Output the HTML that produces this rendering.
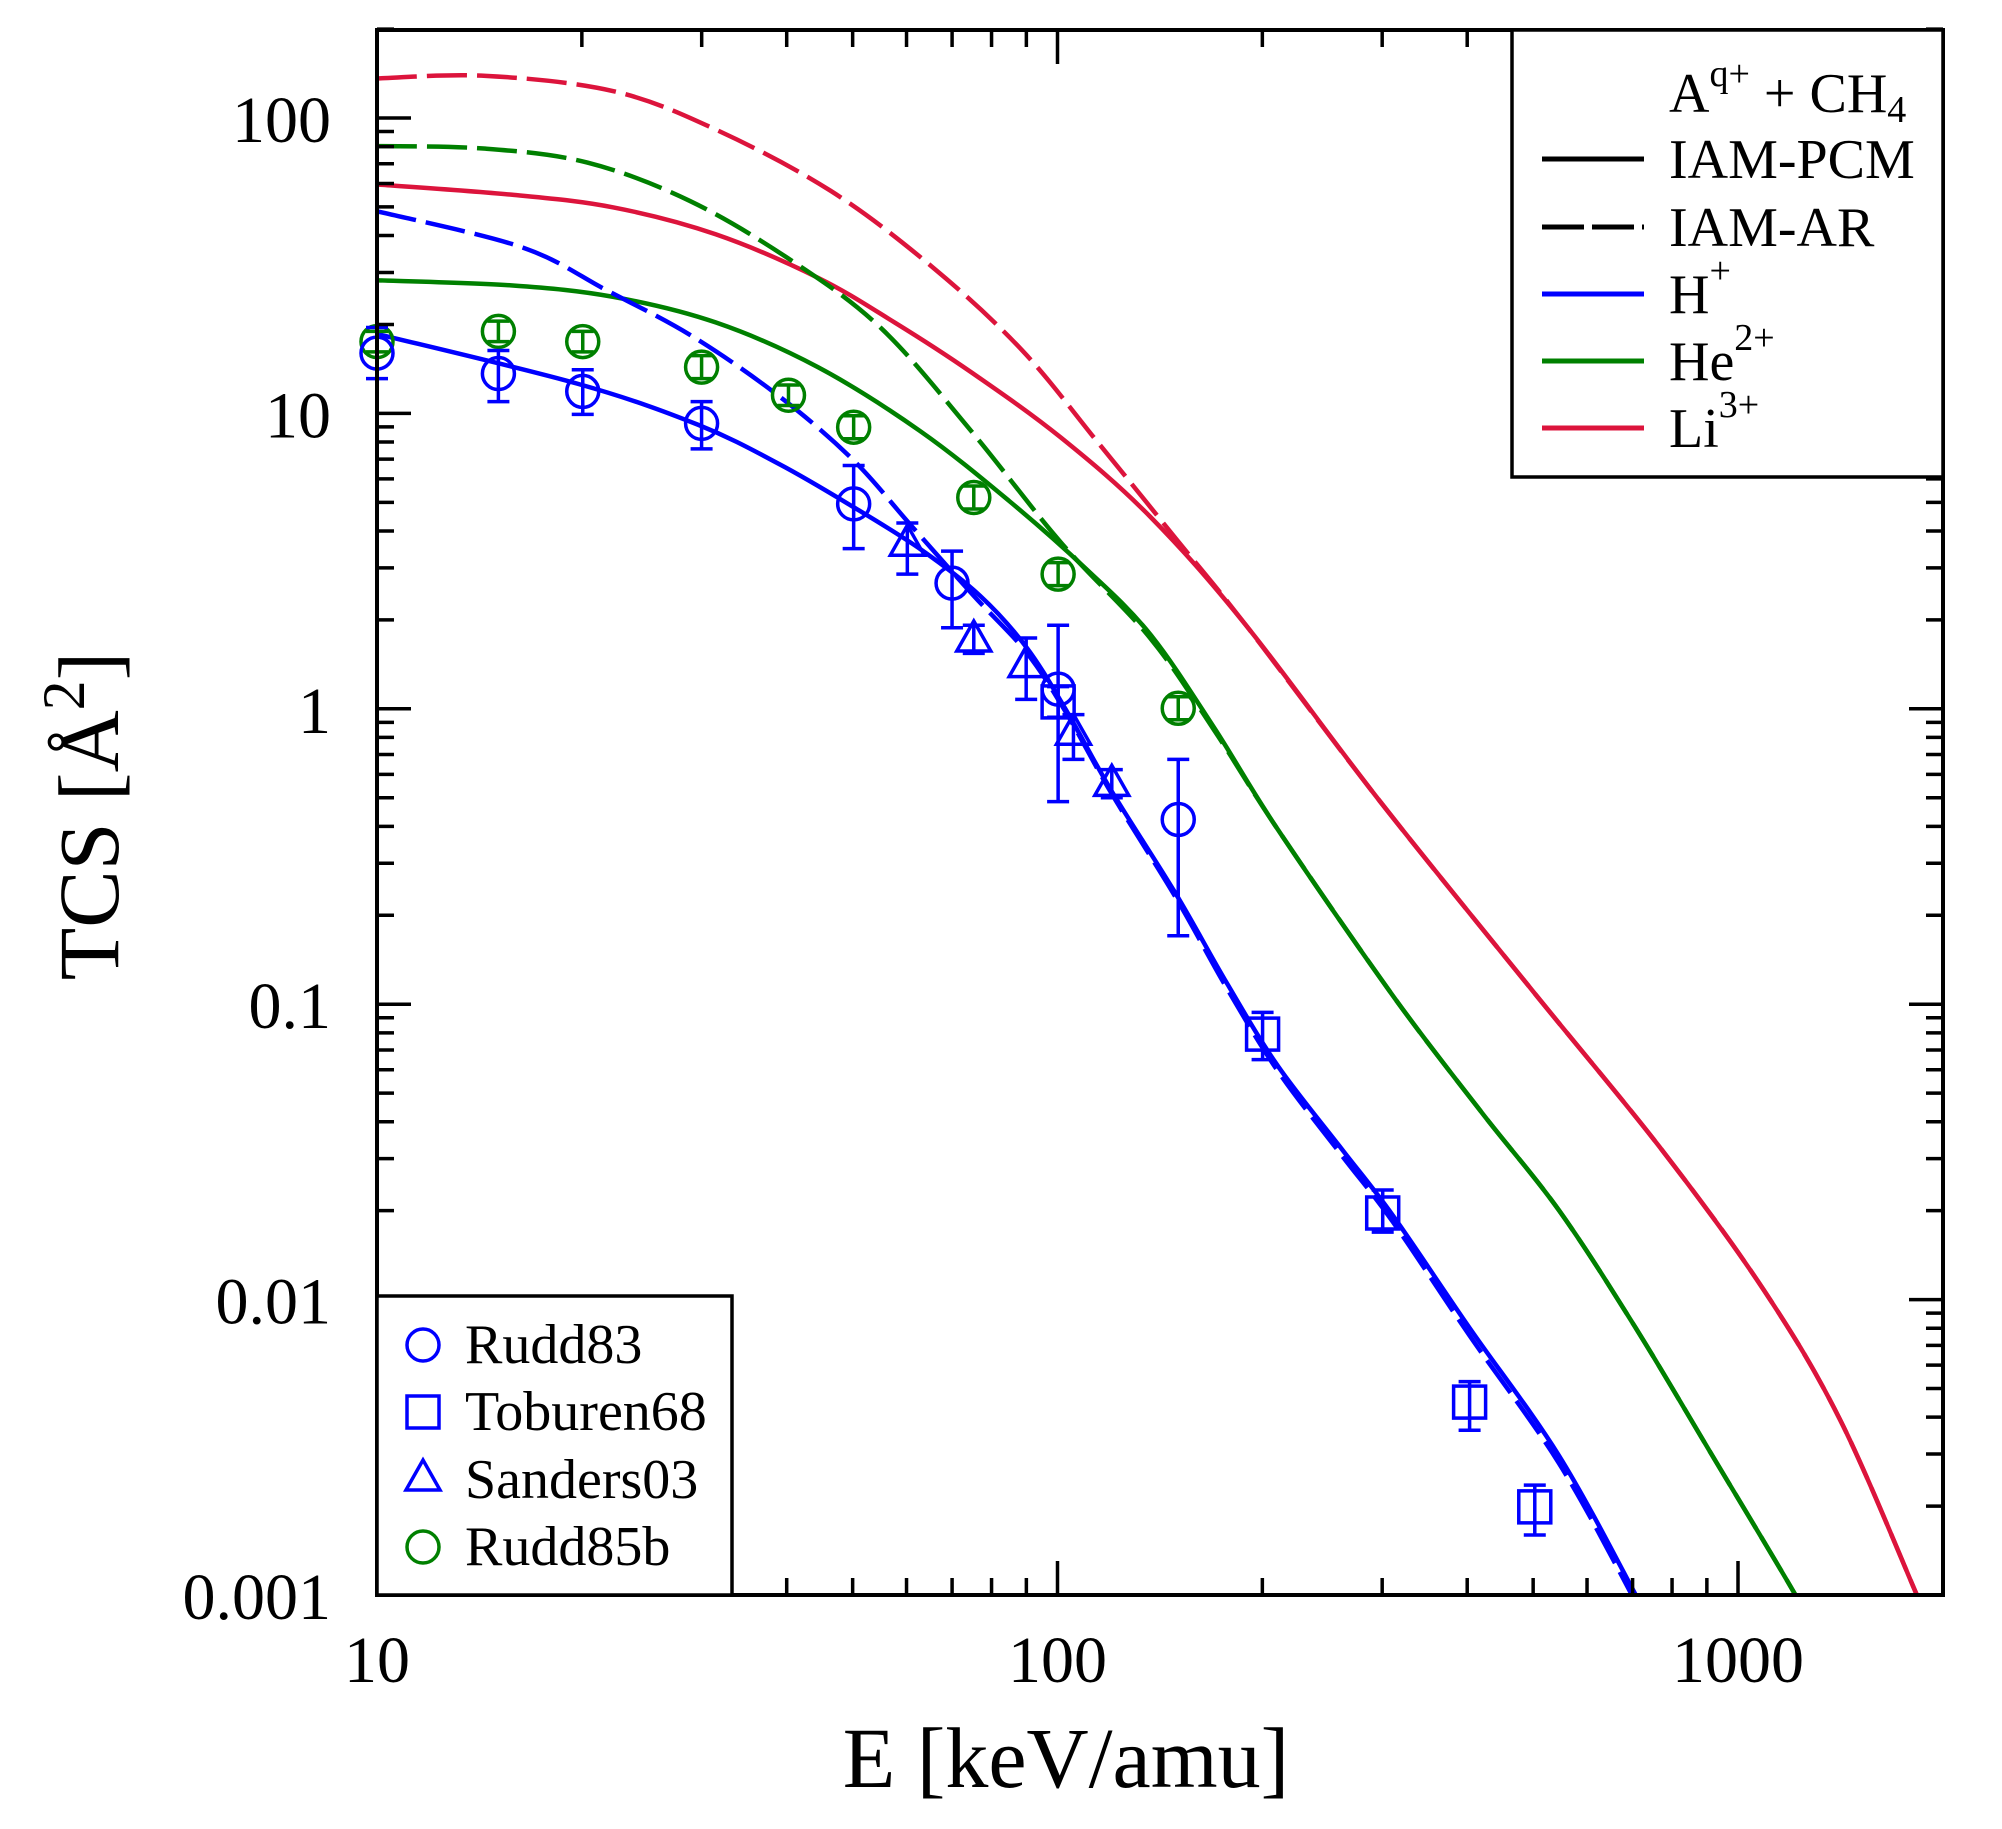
<!DOCTYPE html>
<html><head><meta charset="utf-8">
<style>
html,body{margin:0;padding:0;background:#fff;}
svg{display:block;}
text{font-family:"Liberation Serif",serif;fill:#000;}
</style></head>
<body>
<svg id="s" width="2002" height="1829" viewBox="0 0 2002 1829" xmlns="http://www.w3.org/2000/svg">
<defs><clipPath id="cp"><rect x="377" y="30" width="1566" height="1565"/></clipPath></defs>
<g id="curves" clip-path="url(#cp)"></g>
<g id="pts"></g>
<g id="ticks" stroke="#000" stroke-width="3.5"></g>
<rect x="377" y="30" width="1566" height="1565" fill="none" stroke="#000" stroke-width="4"/>
<rect x="1512" y="30" width="431" height="447" fill="#fff" stroke="#000" stroke-width="3.5"/>
<text x="1669" y="112" font-size="56">A<tspan font-size="38" dy="-26">q+</tspan><tspan dy="26"> + CH</tspan><tspan font-size="38" dy="10">4</tspan></text>
<line x1="1542" y1="159" x2="1644" y2="159" stroke="#000" stroke-width="5"/>
<text x="1669" y="178" font-size="56">IAM-PCM</text>
<line x1="1542" y1="227" x2="1644" y2="227" stroke="#000" stroke-width="5" stroke-dasharray="42,8"/>
<text x="1669" y="246" font-size="56">IAM-AR</text>
<line x1="1542" y1="294" x2="1644" y2="294" stroke="#0000ff" stroke-width="5"/>
<text x="1669" y="313" font-size="56">H<tspan font-size="38" dy="-30">+</tspan></text>
<line x1="1542" y1="361" x2="1644" y2="361" stroke="#008000" stroke-width="5"/>
<text x="1669" y="380" font-size="56">He<tspan font-size="38" dy="-30">2+</tspan></text>
<line x1="1542" y1="428" x2="1644" y2="428" stroke="#dc143c" stroke-width="5"/>
<text x="1669" y="447" font-size="56">Li<tspan font-size="38" dy="-30">3+</tspan></text>
<rect x="377" y="1296" width="355" height="299" fill="#fff" stroke="#000" stroke-width="3.5"/>
<circle cx="423" cy="1345" r="16" fill="none" stroke="#0000ff" stroke-width="3.5"/>
<text x="465" y="1363" font-size="56">Rudd83</text>
<rect x="407" y="1396" width="32" height="32" fill="none" stroke="#0000ff" stroke-width="3.5"/>
<text x="465" y="1430" font-size="56">Toburen68</text>
<polygon points="423,1460 440,1490 406,1490" fill="none" stroke="#0000ff" stroke-width="3.5"/>
<text x="465" y="1498" font-size="56">Sanders03</text>
<circle cx="423" cy="1547" r="16" fill="none" stroke="#008000" stroke-width="3.5"/>
<text x="465" y="1565" font-size="56">Rudd85b</text>
<g id="labels" font-size="66"></g>
<text x="1066" y="1787" font-size="86" text-anchor="middle">E [keV/amu]</text>
<text transform="translate(118,816) rotate(-90)" font-size="86" text-anchor="middle">TCS [Å<tspan font-size="60" dy="-34">2</tspan><tspan dy="34">]</tspan></text>
</svg>
<script>
var NS="http://www.w3.org/2000/svg";
function X(d){return 377+(d-295)*1.2779;}
function Y(d){return 118+(d-93)*1.2777;}
function el(p,t,a){var e=document.createElementNS(NS,t);for(var k in a)e.setAttribute(k,a[k]);p.appendChild(e);return e;}
function path(pts){
  var P=pts.map(function(p){return [X(p[0]),Y(p[1])];});
  var d="M"+P[0][0]+","+P[0][1];
  for(var i=0;i<P.length-1;i++){
    var p0=P[i-1]||P[i],p1=P[i],p2=P[i+1],p3=P[i+2]||P[i+1];
    var c1=[p1[0]+(p2[0]-p0[0])/6,p1[1]+(p2[1]-p0[1])/6];
    var c2=[p2[0]-(p3[0]-p1[0])/6,p2[1]-(p3[1]-p1[1])/6];
    d+=" C"+c1+" "+c2+" "+p2;
  }
  return d;
}
var cg=document.getElementById("curves");
var B="#0000ff",G="#008000",R="#dc143c";
var liTail=[[975,490],[1080,628],[1200,777],[1300,900],[1380,1010],[1440,1112],[1500,1249],[1515,1285]];
var liS=[[295,145],[400,153],[480,163],[560,184],[640,218],[700,253],[760,292],[830,343],[900,405]].concat(liTail);
var liD=[[295,62],[380,60],[480,72],[560,102],[650,150],[730,210],[800,275],[860,348],[920,422]].concat(liTail);
var heTail=[[1000,650],[1090,780],[1160,872],[1220,948],[1280,1040],[1340,1140],[1405,1249],[1420,1280]];
var heS=[[295,220],[400,224],[480,233],[560,253],[640,288],[720,338],[790,393],[850,446],[900,497],[950,570]].concat(heTail);
var heD=[[295,115],[380,117],[460,128],[540,158],[620,205],[690,258],[760,338],[830,425],[900,500],[950,572]].concat(heTail);
var hTail=[[920,700],[960,770],[1000,835],[1050,900],[1090,952],[1150,1040],[1220,1140],[1280,1249],[1295,1280]];
var hS=[[295,262],[452,301],[546,333],[610,364],[667,397],[721,431],[767,467],[803,507],[834,556],[870,620]].concat(hTail);
var hD=[[295,166],[408,194],[475,228],[542,264],[610,311],[667,360],[713,412],[762,467],[803,511],[834,558],[870,622],[920,703],[960,774],[1000,839],[1050,905],[1090,957],[1150,1046],[1220,1146],[1277,1249],[1292,1280]];
el(cg,"path",{d:path(liS),fill:"none",stroke:R,"stroke-width":4.5});
el(cg,"path",{d:path(liD),fill:"none",stroke:R,"stroke-width":4.5,"stroke-dasharray":"40,10"});
el(cg,"path",{d:path(heS),fill:"none",stroke:G,"stroke-width":4.5});
el(cg,"path",{d:path(heD),fill:"none",stroke:G,"stroke-width":4.5,"stroke-dasharray":"40,10"});
el(cg,"path",{d:path(hS),fill:"none",stroke:B,"stroke-width":4.5});
el(cg,"path",{d:path(hD),fill:"none",stroke:B,"stroke-width":4.5,"stroke-dasharray":"40,10"});
var pg=document.getElementById("pts");
function err(x,y1,y2,c){var xx=X(x);el(pg,"line",{x1:xx,y1:Y(y1),x2:xx,y2:Y(y2),stroke:c,"stroke-width":3.5});
 el(pg,"line",{x1:xx-11,y1:Y(y1),x2:xx+11,y2:Y(y1),stroke:c,"stroke-width":3.5});
 el(pg,"line",{x1:xx-11,y1:Y(y2),x2:xx+11,y2:Y(y2),stroke:c,"stroke-width":3.5});}
function circ(x,y,c){el(pg,"circle",{cx:X(x),cy:Y(y),r:16,fill:"none",stroke:c,"stroke-width":3.5});}
function sq(x,y){el(pg,"rect",{x:X(x)-16,y:Y(y)-16,width:32,height:32,fill:"none",stroke:B,"stroke-width":3.5});}
function tri(x,y){var xx=X(x),yy=Y(y);el(pg,"polygon",{points:(xx)+","+(yy-17)+" "+(xx+17)+","+(yy+13)+" "+(xx-17)+","+(yy+13),fill:"none",stroke:B,"stroke-width":3.5});}
[[295,268,260,276],[390,260,252,268],[456,268,260,276],[549,288,279,297],[617,310,302,318],[668,335,326,344],[762,390,381,399],[828,450,441,459],[922,555,546,564]].forEach(function(p){err(p[0],p[2],p[3],G);circ(p[0],p[1],G);});
[[295,277,257,297],[390,293,275,315],[456,307,290,325],[549,332,315,352],[668,395,365,430],[745,457,432,492],[828,540,490,628],[922,642,595,733]].forEach(function(p){err(p[0],p[2],p[3],B);circ(p[0],p[1],B);});
[[828,550,538,562],[988,810,793,830],[1082,950,932,965],[1150,1098,1082,1120],[1201,1180,1163,1202]].forEach(function(p){err(p[0],p[2],p[3],B);sq(p[0],p[1]);});
[[710,425,410,450],[762,500,490,512],[803,520,500,548],[840,573,560,595],[870,613,603,625]].forEach(function(p){err(p[0],p[2],p[3],B);tri(p[0],p[1]);});
var tg=document.getElementById("ticks");
var dx=680.5,dy=295.4;
function xp(v){return 377+(Math.log10(v)-1)*dx;}
function yp(v){return 1595-(Math.log10(v)+3)*dy;}
for(var e=1;e<=3;e++){for(var m=1;m<=9;m++){var v=m*Math.pow(10,e);if(v>2000)break;var x=xp(v);var L=(m==1)?34:17;
 el(tg,"line",{x1:x,y1:1595,x2:x,y2:1595-L});el(tg,"line",{x1:x,y1:30,x2:x,y2:30+L});}}
for(var e=-3;e<=2;e++){for(var m=1;m<=9;m++){var v=m*Math.pow(10,e);if(v>200)break;var y=yp(v);var L=(m==1)?34:17;
 el(tg,"line",{x1:377,y1:y,x2:377+L,y2:y});el(tg,"line",{x1:1943,y1:y,x2:1943-L,y2:y});}}
var lg=document.getElementById("labels");
[["10",10],["100",100],["1000",1000]].forEach(function(a){var t=el(lg,"text",{x:xp(a[1]),y:1682,"text-anchor":"middle"});t.textContent=a[0];});
[["100",100],["10",10],["1",1],["0.1",0.1],["0.01",0.01],["0.001",0.001]].forEach(function(a){var t=el(lg,"text",{x:331,y:yp(a[1])+24,"text-anchor":"end"});t.textContent=a[0];});
</script>
</body></html>
